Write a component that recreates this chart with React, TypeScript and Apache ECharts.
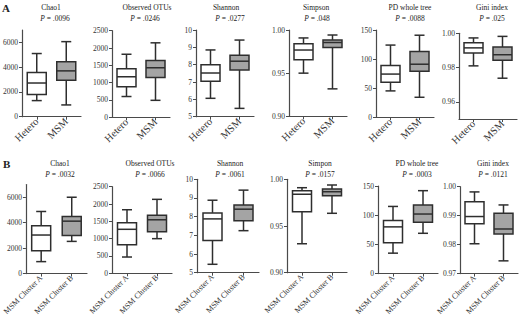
import React, { useEffect, useRef } from 'react';
import * as echarts from 'echarts';

// ---------- data ----------
const groupsA = ['Hetero', 'MSM'];
const groupsB = ['MSM Cluster A', 'MSM Cluster B'];
const metrics = ['Chao1', 'Observed OTUs', 'Shannon', 'Simpson', 'PD whole tree', 'Gini index'];
const metricsB = ['Chao1', 'Observed OTUs', 'Shannon', 'Simpon', 'PD whole tree', 'Gini index'];
const pValuesA = ['.0096', '.0246', '.0277', '.048', '.0088', '.025'];
const pValuesB = ['.0032', '.0066', '.0061', '.0157', '.0003', '.0121'];

// each box: [min, Q1, median, Q3, max]
const chao1A = [[1300, 1800, 2720, 3560, 5100], [950, 2950, 3700, 4440, 6060]];
const otusA = [[600, 880, 1170, 1400, 1820], [490, 1150, 1430, 1640, 2150]];
const shannonA = [[6.06, 7.05, 7.52, 8.0, 8.85], [5.48, 7.7, 8.2, 8.55, 9.42]];
const simpsonA = [[0.95, 0.9655, 0.9768, 0.9842, 0.9908], [0.9318, 0.9798, 0.9855, 0.9885, 0.9942]];
const pdA = [[45, 60, 74, 89, 124], [34, 79, 91, 113, 141]];
const giniA = [[0.981, 0.9885, 0.9915, 0.9945, 0.9973], [0.9738, 0.9843, 0.9875, 0.992, 0.9982]];

const chao1B = [[940, 1800, 3030, 3760, 4880], [2530, 3000, 4120, 4480, 6000]];
const otusB = [[470, 825, 1270, 1460, 1835], [1000, 1200, 1545, 1675, 2135]];
const shannonB = [[5.45, 6.72, 7.88, 8.2, 8.88], [7.25, 7.78, 8.4, 8.62, 9.42]];
const simpsonB = [[0.931, 0.9653, 0.984, 0.9878, 0.991], [0.9636, 0.9824, 0.9867, 0.9896, 0.9939]];
const pdB = [[35, 53, 80, 91, 115], [69, 88, 102, 117.5, 142]];
const giniB = [[0.9803, 0.9872, 0.9897, 0.9948, 0.9982], [0.9744, 0.9837, 0.9854, 0.9908, 0.9937]];

// y-axis ranges and tick labels
const yMinA = [0, 0, 5, 0.9, 0, 0.95];
const yMaxA = [7000, 2500, 10, 1.0, 150, 1.0];
const yTicksA = [
  [0, 2000, 4000, 6000],
  [0, 500, 1000, 1500, 2000, 2500],
  [5, 6, 7, 8, 9, 10],
  [0.9, 0.95, 1.0],
  [0, 50, 100, 150],
  [0.96, 0.98, 1.0],
];
const yMinB = [0, 0, 5, 0.9, 0, 0.97];
const yMaxB = [7000, 2500, 10, 1.0, 150, 1.0];
const yTicksB = [
  [0, 2000, 4000, 6000],
  [0, 500, 1000, 1500, 2000, 2500],
  [5, 6, 7, 8, 9, 10],
  [0.9, 0.95, 1.0],
  [0, 50, 100, 150],
  [0.97, 0.98, 0.99, 1.0],
];
const decimals = [0, 0, 0, 2, 0, 2];

const boxesA = [chao1A, otusA, shannonA, simpsonA, pdA, giniA];
const boxesB = [chao1B, otusB, shannonB, simpsonB, pdB, giniB];

// ---------- layout (pixels) ----------
// [axisX, topY, bottomY, width]
const layoutA = [
  [21, 30, 116.7, 60],
  [112, 30.7, 117.3, 58],
  [196, 30, 116.7, 58],
  [289, 30, 116.3, 58],
  [376, 30, 117, 58],
  [459, 33.3, 119, 58],
];
const layoutB = [
  [25, 184.5, 274, 62],
  [112, 186.7, 273.3, 60],
  [197, 179.3, 272.7, 62],
  [287, 179.3, 272.7, 60],
  [378, 186, 274, 60],
  [460, 186.7, 274, 58],
];
const titleXA = [51, 147, 226, 316, 410, 492];
const titleXB = [60, 150, 230, 320, 417, 493];
const pXA = [55, 145, 230, 317, 410, 492];
const pXB = [60, 150, 230, 320, 417, 493];

const FONT = '"Liberation Serif", "DejaVu Serif", serif';
const LINE = '#2e2e2e';
const AXIS = '#4a4a4a';
const TEXT = '#333';
const GRAY = '#a4a4a4';
const BOX_W = 19;
const CAP_W = 10;

function buildOption() {
  const grid: any[] = [];
  const xAxis: any[] = [];
  const yAxis: any[] = [];
  const series: any[] = [];
  const graphic: any[] = [];

  const rows = [
    { layout: layoutA, boxes: boxesA, cats: groupsA, yMin: yMinA, yMax: yMaxA, yTicks: yTicksA, titles: metrics, ps: pValuesA, tx: titleXA, px: pXA, ty: 3, xfs: 10.5 },
    { layout: layoutB, boxes: boxesB, cats: groupsB, yMin: yMinB, yMax: yMaxB, yTicks: yTicksB, titles: metricsB, ps: pValuesB, tx: titleXB, px: pXB, ty: 159, xfs: 8 },
  ];

  rows.forEach((row) => {
    row.layout.forEach((L, i) => {
      const idx = grid.length;
      const [ax, top, bottom, w] = L;
      grid.push({ left: ax, top: top, width: w, height: bottom - top, containLabel: false });
      xAxis.push({
        type: 'category',
        gridIndex: idx,
        data: row.cats,
        boundaryGap: true,
        axisLine: { show: true, lineStyle: { color: AXIS, width: 1.2 } },
        axisTick: { show: true, alignWithLabel: true, length: 3, lineStyle: { color: AXIS, width: 1 } },
        axisLabel: { rotate: 45, fontSize: row.xfs, fontFamily: FONT, color: TEXT, margin: 3, interval: 0 },
        splitLine: { show: false },
      });
      const dec = decimals[i];
      yAxis.push({
        type: 'value',
        gridIndex: idx,
        min: row.yMin[i],
        max: row.yMax[i],
        axisLine: { show: true, lineStyle: { color: AXIS, width: 1.2 } },
        axisTick: { show: true, length: 3, customValues: row.yTicks[i], lineStyle: { color: AXIS, width: 1 } },
        axisLabel: {
          customValues: row.yTicks[i],
          fontSize: 7.5,
          fontFamily: FONT,
          color: TEXT,
          margin: 4,
          formatter: (v: number) => v.toFixed(dec),
        },
        splitLine: { show: false },
      });
      series.push({
        type: 'custom',
        xAxisIndex: idx,
        yAxisIndex: idx,
        data: row.boxes[i].map((b, k) => [k, ...b]),
        encode: { x: 0, y: [1, 2, 3, 4, 5] },
        renderItem: (params: any, api: any) => {
          const k = api.value(0);
          const pMin = api.coord([k, api.value(1)]);
          const pQ1 = api.coord([k, api.value(2)]);
          const pMed = api.coord([k, api.value(3)]);
          const pQ3 = api.coord([k, api.value(4)]);
          const pMax = api.coord([k, api.value(5)]);
          const cx = pMin[0];
          const hw = BOX_W / 2;
          const cw = CAP_W / 2;
          const ls = { stroke: LINE, lineWidth: 1.5 };
          return {
            type: 'group',
            children: [
              { type: 'line', shape: { x1: cx, y1: pMax[1], x2: cx, y2: pQ3[1] }, style: ls },
              { type: 'line', shape: { x1: cx, y1: pQ1[1], x2: cx, y2: pMin[1] }, style: ls },
              { type: 'line', shape: { x1: cx - cw, y1: pMax[1], x2: cx + cw, y2: pMax[1] }, style: ls },
              { type: 'line', shape: { x1: cx - cw, y1: pMin[1], x2: cx + cw, y2: pMin[1] }, style: ls },
              {
                type: 'rect',
                shape: { x: cx - hw, y: pQ3[1], width: BOX_W, height: pQ1[1] - pQ3[1] },
                style: { fill: k === 0 ? '#fff' : GRAY, stroke: LINE, lineWidth: 1.5 },
              },
              { type: 'line', shape: { x1: cx - hw, y1: pMed[1], x2: cx + hw, y2: pMed[1] }, style: ls },
            ],
          };
        },
      });
      graphic.push({
        type: 'text',
        x: row.tx[i],
        y: row.ty,
        style: { text: row.titles[i], fontSize: 7.5, fontFamily: FONT, fill: '#222', align: 'center', verticalAlign: 'top' },
      });
      graphic.push({
        type: 'text',
        x: row.px[i],
        y: row.ty + 11,
        style: {
          text: '{i|P} = ' + row.ps[i],
          fontSize: 7.5,
          fontFamily: FONT,
          fill: '#222',
          align: 'center',
          verticalAlign: 'top',
          rich: { i: { fontStyle: 'italic', fontSize: 7.5, fontFamily: FONT, fill: '#222' } },
        },
      });
    });
  });

  graphic.push({ type: 'text', x: 2, y: 2, style: { text: 'A', fontSize: 11, fontWeight: 'bold', fontFamily: FONT, fill: '#222' } });
  graphic.push({ type: 'text', x: 3, y: 158, style: { text: 'B', fontSize: 11, fontWeight: 'bold', fontFamily: FONT, fill: '#222' } });

  return { animation: false, backgroundColor: '#fff', grid, xAxis, yAxis, series, graphic };
}

export default function App() {
  const ref = useRef<HTMLDivElement>(null);
  useEffect(() => {
    if (!ref.current) return;
    const chart = echarts.init(ref.current, undefined, { renderer: 'svg' });
    chart.setOption(buildOption() as any);
    return () => chart.dispose();
  }, []);
  return <div ref={ref} style={{ position: 'fixed', left: 0, top: 0, width: 520, height: 318 }} />;
}
